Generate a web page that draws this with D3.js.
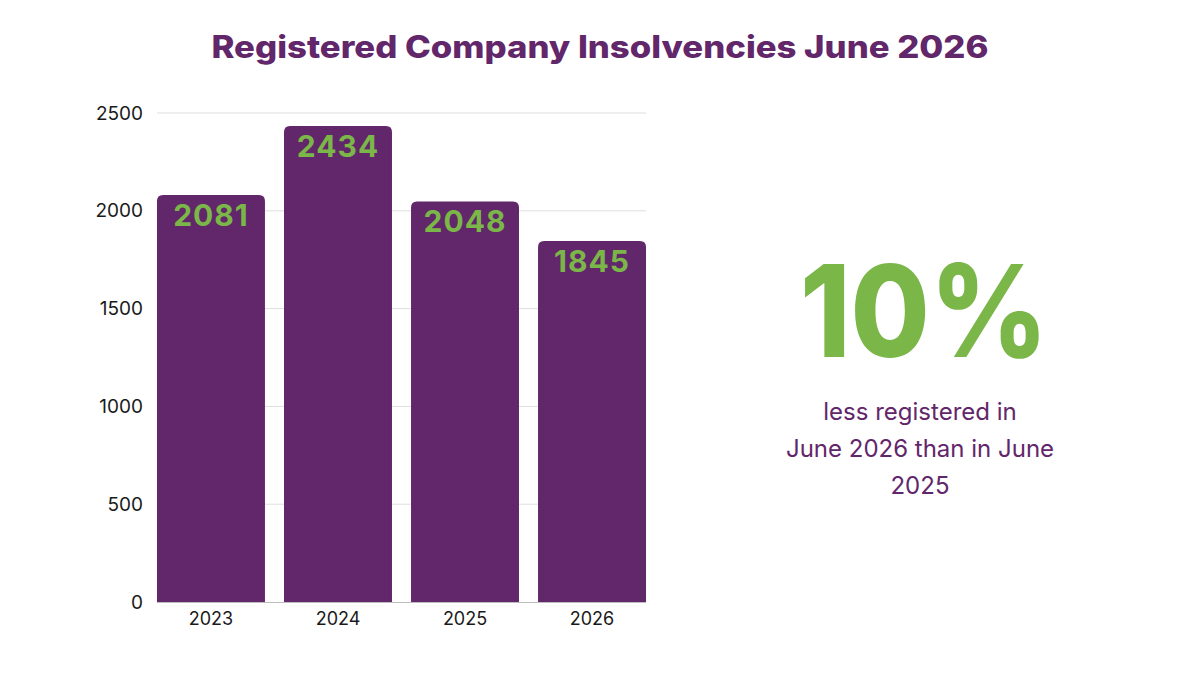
<!DOCTYPE html>
<html>
<head>
<meta charset="utf-8">
<script src="https://cdn.jsdelivr.net/npm/d3@7"></script>
<style>
  body { margin: 0; background: #fff; }
  svg { display: block; }
</style>
</head>
<body>
<svg id="chart" width="1200" height="675"></svg>
<script>
// chart data
var years = ["2023", "2024", "2025", "2026"];
var insolvencies = [2081, 2434, 2048, 1845];
var yTicks = [0, 500, 1000, 1500, 2000, 2500];
var bigStat = "10%";
var statLines = ["less registered in", "June 2026 than in June", "2025"];

var purple = "#62266a";
var green = "#7ab648";

var svg = d3.select("#chart");

// title
svg.append("text")
    .attr("x", 600)
    .attr("y", 58)
    .attr("text-anchor", "middle")
    .attr("font-family", "Inter, sans-serif")
    .attr("font-weight", 800)
    .attr("font-size", 31)
    .attr("textLength", 777)
    .attr("lengthAdjust", "spacingAndGlyphs")
    .attr("fill", purple)
    .text("Registered Company Insolvencies June 2026");

var x = d3.scaleBand()
    .domain(years)
    .range([157, 646])
    .paddingInner(0.15)
    .paddingOuter(0);

var y = d3.scaleLinear()
    .domain([0, 2500])
    .range([602, 113]);

// gridlines
svg.append("g")
    .selectAll("line")
    .data(yTicks.filter(d => d > 0))
    .join("line")
    .attr("x1", 157)
    .attr("x2", 646)
    .attr("y1", d => y(d))
    .attr("y2", d => y(d))
    .attr("stroke", "#dedede")
    .attr("stroke-width", 1);

// y axis labels
var yAxis = d3.axisLeft(y).tickValues(yTicks).tickFormat(d3.format("d")).tickSize(0).tickPadding(14);
var gy = svg.append("g")
    .attr("transform", "translate(157,0)")
    .call(yAxis);
gy.select(".domain").remove();
gy.selectAll("text")
    .attr("font-family", "Inter, sans-serif")
    .attr("font-size", 19)
    .attr("fill", "#1a1a1a");

// bars with rounded tops
function barPath(d, i) {
    var x0 = x(years[i]), w = x.bandwidth();
    var y0 = y(d), y1 = y(0), r = 6;
    return "M" + x0 + "," + y1 +
        "V" + (y0 + r) +
        "Q" + x0 + "," + y0 + " " + (x0 + r) + "," + y0 +
        "H" + (x0 + w - r) +
        "Q" + (x0 + w) + "," + y0 + " " + (x0 + w) + "," + (y0 + r) +
        "V" + y1 + "Z";
}

svg.append("g")
    .selectAll("path")
    .data(insolvencies)
    .join("path")
    .attr("d", barPath)
    .attr("fill", purple);

// baseline
svg.append("line")
    .attr("x1", 157).attr("x2", 646)
    .attr("y1", y(0) + 0.5).attr("y2", y(0) + 0.5)
    .attr("stroke", "#bdbdbd");

// x axis labels
var xAxis = d3.axisBottom(x).tickSize(0).tickPadding(10);
var gx = svg.append("g")
    .attr("transform", "translate(0," + y(0) + ")")
    .call(xAxis);
gx.select(".domain").remove();
gx.selectAll("text")
    .attr("font-family", "Inter, sans-serif")
    .attr("font-size", 18)
    .attr("fill", "#1a1a1a");

// value labels inside bars
svg.append("g")
    .selectAll("text")
    .data(insolvencies)
    .join("text")
    .attr("x", (d, i) => x(years[i]) + x.bandwidth() / 2)
    .attr("y", d => y(d) + 31)
    .attr("text-anchor", "middle")
    .attr("font-family", "Inter, sans-serif")
    .attr("font-weight", 700)
    .attr("font-size", 30)
    .attr("letter-spacing", 1)
    .attr("fill", green)
    .text(d => d);

// big stat on the right
svg.append("text")
    .attr("x", 924)
    .attr("y", 357)
    .attr("text-anchor", "middle")
    .attr("font-family", "Inter, sans-serif")
    .attr("font-weight", 800)
    .attr("font-size", 128)
    .attr("textLength", 248)
    .attr("lengthAdjust", "spacingAndGlyphs")
    .attr("fill", green)
    .text(bigStat);

svg.append("g")
    .selectAll("text")
    .data(statLines)
    .join("text")
    .attr("x", 920)
    .attr("y", (d, i) => 420 + i * 37)
    .attr("text-anchor", "middle")
    .attr("font-family", "Inter, sans-serif")
    .attr("font-size", 24)
    .attr("fill", purple)
    .text(d => d);
</script>
</body>
</html>
